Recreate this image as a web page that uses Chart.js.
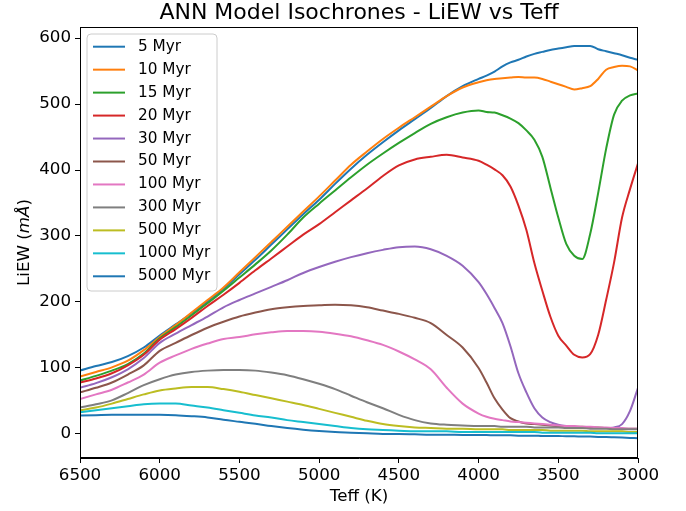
<!DOCTYPE html>
<html>
<head>
<meta charset="utf-8">
<script src="https://cdn.jsdelivr.net/npm/chart.js@4/dist/chart.umd.min.js"></script>
<style>
  html, body { margin: 0; padding: 0; background: #fff; }
  #wrap { width: 686px; height: 511px; position: relative; }
</style>
</head>
<body>
<div id="wrap"><canvas id="c" width="686" height="511"></canvas></div>
<script>
// ---- Data ----
const teff = [6500,6400,6300,6200,6100,6000,5900,5800,5700,5600,5500,5400,5300,5200,5100,5000,4900,4800,4700,4600,4500,4400,4300,4200,4100,4000,
              3950,3900,3850,3800,3750,3700,3650,3600,3550,3500,3450,3400,3350,3300,3250,3200,3150,3100,3050,3000];

const myr5    = [96,103,109,118,131,149,166,183,201,220,242,264,287,310,333,355,379,402,423,442,460,477,494,512,527,538,
                 543,549,557,563,567,572,576,579,582,584,586,588,588,588,583,580,577,574,570,567];
const myr10   = [87,94,101,111,127,147,165,184,203,222,245,268,291,314,337,360,384,408,428,447,464,480,496,512,525,533,
                 536,538,539,540,541,540,540,538,534,530,526,522,524,527,538,552,556,558,557,551];
const myr15   = [81,88,96,106,122,145,162,180,198,217,237,257,278,302,328,349,369,389,408,425,441,456,470,480,487,490,
                 488,487,483,478,471,460,446,420,374,328,288,270,265,303,365,432,484,505,513,516];
const myr20   = [78,84,92,104,120,143,159,176,194,211,229,248,266,284,302,318,336,354,372,391,407,416,420,423,419,414,
                 408,401,392,375,346,309,259,217,178,149,134,120,116,121,150,203,260,328,371,410];
const myr30   = [70,77,86,98,115,138,152,165,178,192,203,213,223,233,244,253,261,268,274,279,283,284,280,270,255,230,
                 212,191,168,133,92,63,39,25,18,14,12,11,10,10,9,9,10,15,35,70];
const myr50   = [63,70,78,90,104,126,138,150,161,170,178,184,189,192,194,195,196,195,192,187,182,176,168,150,131,100,
                 78,54,37,24,19,16,15,14,13,12,12,11,11,10,10,9,9,8,8,8];
const myr100  = [53,60,67,78,90,108,119,129,137,144,147,151,154,156,156,155,152,148,142,135,125,113,98,70,46,31,
                 26,23,21,19,18,17,16,15,14,13,12,12,11,11,10,10,9,9,8,8];
const myr300  = [40,45,51,62,74,83,90,94,96,97,97,96,93,89,83,76,68,58,48,39,29,21,16,14,13,12,
                 12,12,11,11,11,11,10,10,10,10,9,9,9,8,8,8,7,7,7,7];
const myr500  = [36,40,46,53,60,66,69,71,71,68,64,59,54,49,44,38,32,26,20,15,12,10,9,8,8,7,
                 7,7,7,6,6,6,6,6,5,5,5,5,5,4,4,4,4,4,3,3];
const myr1000 = [33,36,39,42,45,46,46,43,40,36,32,28,25,21,18,15,12,9,7,6,5,4,4,4,3,3,
                 3,3,3,3,3,3,3,2,2,2,2,2,2,2,1,1,1,1,1,1];
const myr5000 = [28,28.5,29,29,29,29,28.5,27,25,21.5,18.5,15.5,12,9,6.5,4.5,3,2,1,0,0,-0.5,-1,-1,-1.5,-1.5,
                 -1.5,-2,-2,-2,-2.5,-2.5,-2.5,-3,-3,-3,-3.5,-3.5,-4,-4,-4.5,-4.5,-5,-5.5,-6,-6.5];

const seriesLabels = ['5 Myr','10 Myr','15 Myr','20 Myr','30 Myr','50 Myr','100 Myr','300 Myr','500 Myr','1000 Myr','5000 Myr'];
const seriesValues = [myr5, myr10, myr15, myr20, myr30, myr50, myr100, myr300, myr500, myr1000, myr5000];
const seriesColors = ['#1f77b4','#ff7f0e','#2ca02c','#d62728','#9467bd','#8c564b','#e377c2','#7f7f7f','#bcbd22','#17becf','#1f77b4'];

const xTicks = [6500,6000,5500,5000,4500,4000,3500,3000];
const yTicks = [0,100,200,300,400,500,600];

const FONT = 'DejaVu Sans';

// ---- Plugins ----
const framePlugin = {
  id: 'frame',
  afterDatasetsDraw(chart) {
    const {ctx, chartArea: a} = chart;
    ctx.save();
    ctx.strokeStyle = '#000';
    ctx.lineWidth = 1;
    ctx.strokeRect(Math.round(a.left) + 0.5, Math.round(a.top) + 0.5,
                   Math.round(a.right - a.left) - 1, Math.round(a.bottom - a.top) - 1);
    ctx.restore();
  }
};

const legendPlugin = {
  id: 'innerLegend',
  afterDraw(chart) {
    const {ctx, chartArea: a} = chart;
    const x0 = a.left + 7, y0 = a.top + 7, w = 130, h = 257, r = 4;
    ctx.save();
    ctx.beginPath();
    ctx.moveTo(x0 + r, y0);
    ctx.arcTo(x0 + w, y0, x0 + w, y0 + h, r);
    ctx.arcTo(x0 + w, y0 + h, x0, y0 + h, r);
    ctx.arcTo(x0, y0 + h, x0, y0, r);
    ctx.arcTo(x0, y0, x0 + w, y0, r);
    ctx.closePath();
    ctx.fillStyle = 'rgba(255,255,255,0.8)';
    ctx.fill();
    ctx.strokeStyle = '#cccccc';
    ctx.lineWidth = 1;
    ctx.stroke();
    ctx.font = '15.3px "' + FONT + '"';
    ctx.textBaseline = 'middle';
    ctx.fillStyle = '#000';
    chart.data.datasets.forEach((ds, i) => {
      const yy = y0 + 12.7 + i * 22.96;
      ctx.strokeStyle = ds.borderColor;
      ctx.lineWidth = 2;
      ctx.beginPath();
      ctx.moveTo(x0 + 6, yy);
      ctx.lineTo(x0 + 38, yy);
      ctx.stroke();
      ctx.fillText(ds.label, x0 + 51, yy);
    });
    ctx.restore();
  }
};

const yTitlePlugin = {
  id: 'yTitle',
  afterDraw(chart) {
    const {ctx, chartArea: a} = chart;
    const parts = [
      {t: 'LiEW (', f: '16.7px "' + FONT + '"'},
      {t: 'mÅ', f: 'italic 16.7px "' + FONT + '"'},
      {t: ')', f: '16.7px "' + FONT + '"'}
    ];
    ctx.save();
    let total = 0;
    parts.forEach(p => { ctx.font = p.f; p.w = ctx.measureText(p.t).width; total += p.w; });
    ctx.translate(25, (a.top + a.bottom) / 2);
    ctx.rotate(-Math.PI / 2);
    ctx.fillStyle = '#000';
    ctx.textBaseline = 'middle';
    ctx.textAlign = 'left';
    let x = -total / 2;
    parts.forEach(p => { ctx.font = p.f; ctx.fillText(p.t, x, 0); x += p.w; });
    ctx.restore();
  }
};

// ---- Chart ----
const datasets = seriesLabels.map((lab, i) => ({
  label: lab,
  data: teff.map((t, j) => ({x: t, y: seriesValues[i][j]})),
  borderColor: seriesColors[i],
  backgroundColor: seriesColors[i],
  borderWidth: 2,
  pointRadius: 0,
  cubicInterpolationMode: 'monotone',
  fill: false,
  order: -i
}));

new Chart(document.getElementById('c'), {
  type: 'line',
  data: { datasets },
  options: {
    responsive: false,
    animation: false,
    devicePixelRatio: 1,
    layout: { padding: { top: 0, right: 48, left: 0, bottom: 0 } },
    plugins: {
      legend: { display: false },
      tooltip: { enabled: false },
      title: {
        display: true,
        fullSize: false,
        text: 'ANN Model Isochrones - LiEW vs Teff',
        color: '#000',
        font: { family: FONT, size: 22, weight: 'normal', lineHeight: 1.2 },
        padding: { top: 0, bottom: 0.6 }
      }
    },
    scales: {
      x: {
        type: 'linear',
        min: 3000, max: 6500,
        reverse: true,
        afterBuildTicks: s => { s.ticks = xTicks.map(v => ({value: v})); },
        afterFit: s => { s.height = 53; },
        ticks: { color: '#000', font: { family: FONT, size: 16.7 }, maxRotation: 0, autoSkip: false, padding: 3,
                 callback: v => String(v) },
        grid: { drawOnChartArea: false, drawTicks: true, tickLength: 5, color: '#000', tickColor: '#000', tickWidth: 1 },
        border: { color: '#000', width: 1 },
        title: { display: true, text: 'Teff (K)', color: '#000', font: { family: FONT, size: 16.7 }, padding: { top: 0, bottom: 4 } }
      },
      y: {
        type: 'linear',
        min: -36.4, max: 616.7,
        afterBuildTicks: s => { s.ticks = yTicks.map(v => ({value: v})); },
        afterFit: s => { s.width = 80; },
        ticks: { color: '#000', font: { family: FONT, size: 16.7 }, padding: 4, callback: v => String(v) },
        grid: { drawOnChartArea: false, drawTicks: true, tickLength: 5, color: '#000', tickColor: '#000', tickWidth: 1 },
        border: { color: '#000', width: 1 }
      }
    }
  },
  plugins: [framePlugin, legendPlugin, yTitlePlugin]
});
</script>
</body>
</html>
